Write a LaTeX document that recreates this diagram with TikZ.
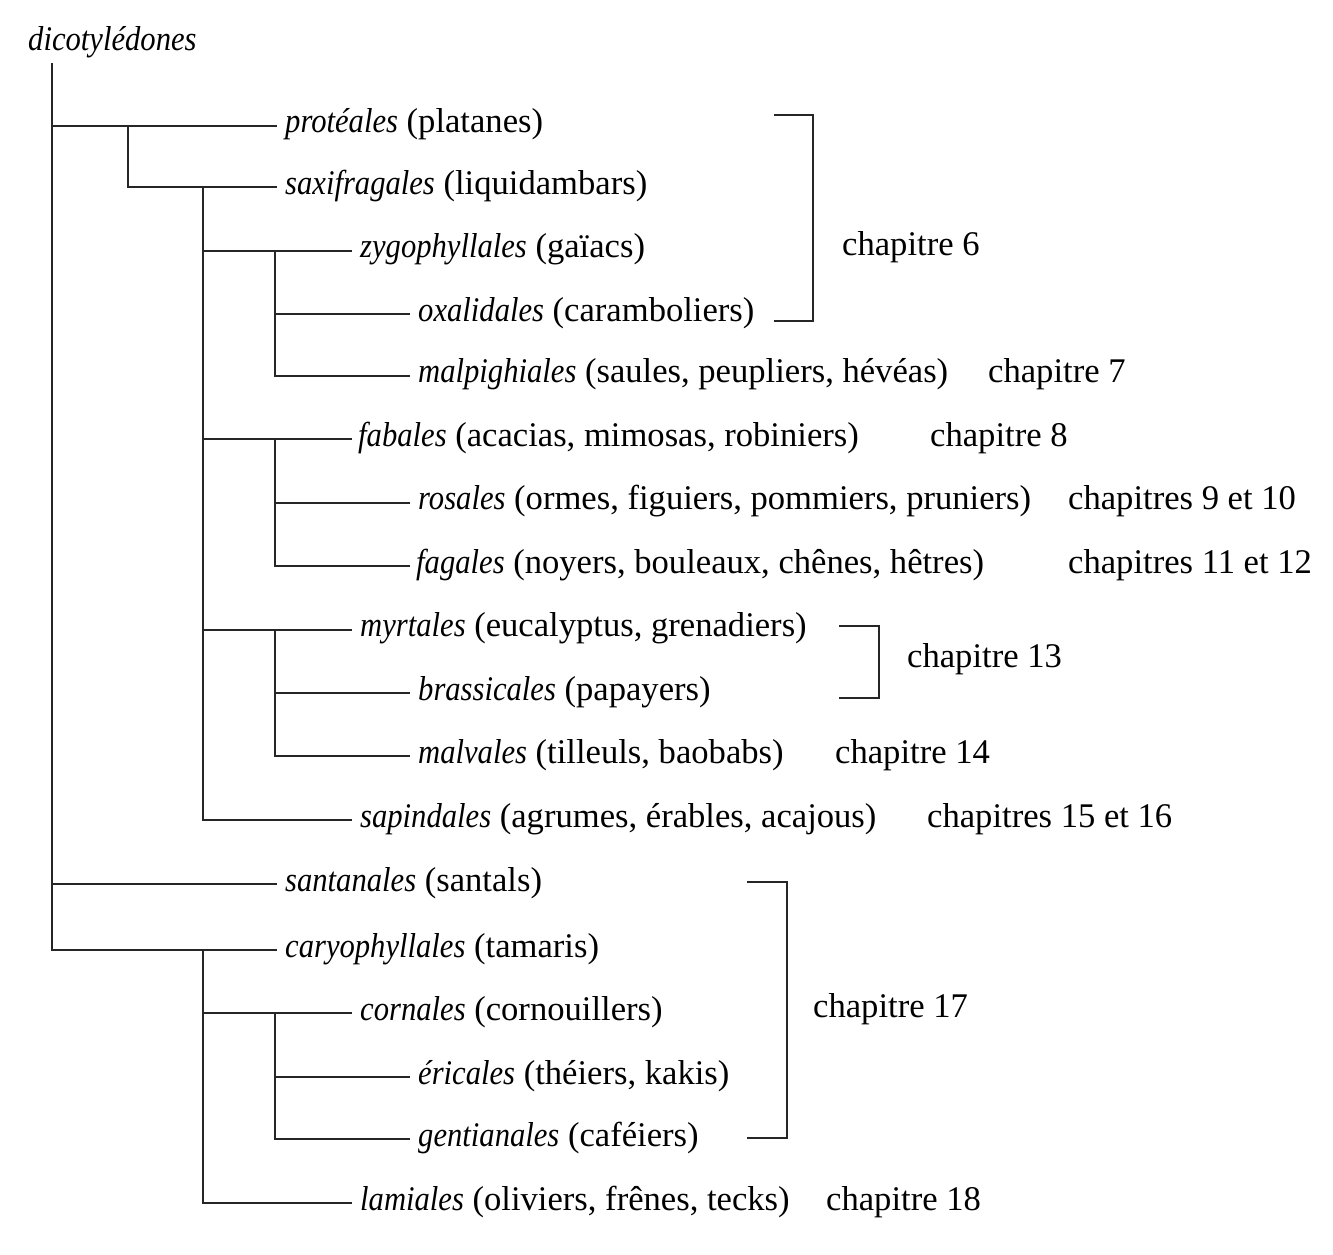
\documentclass[tikz,border=0pt]{standalone}
\usepackage{fontspec}
\setmainfont{Liberation Serif}[ItalicFeatures={FakeStretch=0.885}]
\begin{document}
\begin{tikzpicture}[x=1pt,y=-1pt,
  lbl/.style={anchor=base west,inner sep=0pt,font=\fontsize{34.6}{40}\selectfont},
  edge/.style={line width=1.9pt,black!85}]
\useasboundingbox (0,0) rectangle (1333,1254);
% row line ends
\foreach \i/\y/\xe in {0/126/277,1/187/277,2/251/352,3/314/410,4/376/410,
  5/439/352,6/503/410,7/566/410,8/630/352,9/693/410,10/756/410,11/820/352,
  12/884/277,13/950/277,14/1013/352,15/1077/410,16/1139/410,17/1203/352}
  {\coordinate (e\i) at (\xe,\y);}
\coordinate (top) at (52,63);
\coordinate (j1) at (128,126);
\coordinate (j2) at (203,187);
\coordinate (j3) at (275,251);
\coordinate (j4) at (275,439);
\coordinate (j5) at (275,630);
\coordinate (j6) at (203,950);
\coordinate (j7) at (275,1013);
% tree
\draw[edge] (top) |- (e13);
\draw[edge] (top |- e0) -- (e0);
\draw[edge] (top |- e12) -- (e12);
\draw[edge] (j1) |- (e1);
\draw[edge] (j2) |- (e11);
\draw[edge] (j2 |- e2) -- (e2);
\draw[edge] (j2 |- e5) -- (e5);
\draw[edge] (j2 |- e8) -- (e8);
\draw[edge] (j3) |- (e4);
\draw[edge] (j3 |- e3) -- (e3);
\draw[edge] (j4) |- (e7);
\draw[edge] (j4 |- e6) -- (e6);
\draw[edge] (j5) |- (e10);
\draw[edge] (j5 |- e9) -- (e9);
\draw[edge] (j6) |- (e17);
\draw[edge] (j6 |- e14) -- (e14);
\draw[edge] (j7) |- (e16);
\draw[edge] (j7 |- e15) -- (e15);
% labels
\node[lbl] (root) at (28,50) {\textit{dicotylédones}};
\node[lbl] (n0) at (285,132.7) {\textit{protéales} (platanes)};
\node[lbl] (n1) at (285,194) {\textit{saxifragales} (liquidambars)};
\node[lbl] (n2) at (360,257.7) {\textit{zygophyllales} (gaïacs)};
\node[lbl] (n3) at (418,321) {\textit{oxalidales} (caramboliers)};
\node[lbl] (n4) at (418,382.7) {\textit{malpighiales} (saules, peupliers, hévéas)};
\node[lbl] (n5) at (358,446) {\textit{fabales} (acacias, mimosas, robiniers)};
\node[lbl] (n6) at (418,509.5) {\textit{rosales} (ormes, figuiers, pommiers, pruniers)};
\node[lbl] (n7) at (416,573) {\textit{fagales} (noyers, bouleaux, chênes, hêtres)};
\node[lbl] (n8) at (360,636.5) {\textit{myrtales} (eucalyptus, grenadiers)};
\node[lbl] (n9) at (418,700) {\textit{brassicales} (papayers)};
\node[lbl] (n10) at (418,763) {\textit{malvales} (tilleuls, baobabs)};
\node[lbl] (n11) at (360,827) {\textit{sapindales} (agrumes, érables, acajous)};
\node[lbl] (n12) at (285,891) {\textit{santanales} (santals)};
\node[lbl] (n13) at (285,957) {\textit{caryophyllales} (tamaris)};
\node[lbl] (n14) at (360,1020) {\textit{cornales} (cornouillers)};
\node[lbl] (n15) at (418,1084) {\textit{éricales} (théiers, kakis)};
\node[lbl] (n16) at (418,1146) {\textit{gentianales} (caféiers)};
\node[lbl] (n17) at (360,1210) {\textit{lamiales} (oliviers, frênes, tecks)};
% brackets
\coordinate (b6a) at (774,115);
\coordinate (b6m) at (813,218);
\coordinate (b6b) at (774,321);
\draw[edge] (b6a) -| (b6m) |- (b6b);
\coordinate (b13a) at (839,626);
\coordinate (b13m) at (879,662);
\coordinate (b13b) at (839,698);
\draw[edge] (b13a) -| (b13m) |- (b13b);
\coordinate (b17a) at (747,882);
\coordinate (b17m) at (787,1010);
\coordinate (b17b) at (747,1138);
\draw[edge] (b17a) -| (b17m) |- (b17b);
% chapter labels
\node[lbl] (c6) at (842,255) {chapitre 6};
\node[lbl] (c7) at (988,382.7) {chapitre 7};
\node[lbl] (c8) at (930,446) {chapitre 8};
\node[lbl] (c910) at (1068,509.5) {chapitres 9 et 10};
\node[lbl] (c1112) at (1068,573) {chapitres 11 et 12};
\node[lbl] (c13) at (907,667) {chapitre 13};
\node[lbl] (c14) at (835,763) {chapitre 14};
\node[lbl] (c1516) at (927,827) {chapitres 15 et 16};
\node[lbl] (c17) at (813,1017) {chapitre 17};
\node[lbl] (c18) at (826,1210) {chapitre 18};
\end{tikzpicture}
\end{document}
